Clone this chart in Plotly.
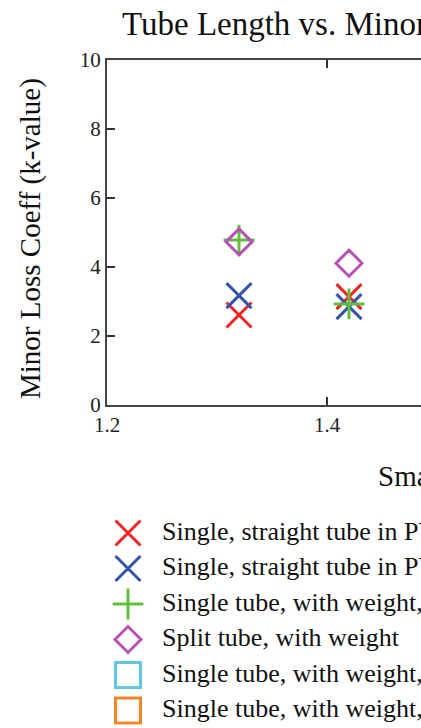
import plotly.graph_objects as go

W, H = 421, 728
SERIF = "Liberation Serif, Times New Roman, serif"

# ---- data -------------------------------------------------------------
tube_length = [1.32, 1.42]

k_straight_a = [2.61, 3.14]     # red X
k_straight_b = [3.17, 2.85]     # blue X
k_weight_a = [4.78, 2.93]       # green +
k_split = [4.73, 4.11]          # purple diamond
k_weight_b = []                 # cyan square
k_weight_c = []                 # orange square

series_names = [
    "Single, straight tube in PVC pipe, run 1",
    "Single, straight tube in PVC pipe, run 2",
    "Single tube, with weight, run 1",
    "Split tube, with weight",
    "Single tube, with weight, run 2",
    "Single tube, with weight, run 3",
]
series_values = [k_straight_a, k_straight_b, k_weight_a, k_split, k_weight_b, k_weight_c]
series_colors = ["#f02424", "#3653ab", "#62bf3e", "#b552b5", "#5fc8dc", "#f0862a"]
series_symbols = ["x-thin-open", "x-thin-open", "cross-thin-open",
                  "diamond-open", "square-open", "square-open"]
series_sizes = [25, 25, 22, 20, 25, 25]

x_ticks = [1.2, 1.4]
y_ticks = [0, 2, 4, 6, 8, 10]

# ---- layout constants (pixels) ----------------------------------------
PLOT_L, PLOT_T, PLOT_B = 107, 60, 405
X_PER_PX = 0.2 / 220.0
LEG_TOP, LEG_ROW0, LEG_STEP = 515, 533, 35.5
LEG_MARK_X, LEG_TEXT_X = 21, 55

fig = go.Figure()

for name, vals, col, sym, sz in zip(series_names, series_values, series_colors,
                                    series_symbols, series_sizes):
    fig.add_trace(go.Scatter(
        x=tube_length[:len(vals)], y=vals, mode="markers", name=name,
        marker=dict(symbol=sym, size=sz, color=col, line=dict(color=col, width=3)),
        showlegend=False, cliponaxis=False,
    ))

# legend drawn on its own hidden axes below the chart
for i, (col, sym, sz) in enumerate(zip(series_colors, series_symbols, series_sizes)):
    fig.add_trace(go.Scatter(
        x=[LEG_MARK_X], y=[i], mode="markers", xaxis="x2", yaxis="y2",
        marker=dict(symbol=sym, size=sz, color=col, line=dict(color=col, width=3)),
        showlegend=False, hoverinfo="skip", cliponaxis=False,
    ))
fig.add_trace(go.Scatter(
    x=[LEG_TEXT_X] * len(series_names), y=list(range(len(series_names))),
    mode="text", text=series_names, textposition="middle right",
    textfont=dict(family=SERIF, size=26, color="#111"),
    xaxis="x2", yaxis="y2", showlegend=False, hoverinfo="skip", cliponaxis=False,
))

axis_line = dict(showline=True, linecolor="#444", linewidth=2, ticks="inside",
                 ticklen=8, tickwidth=1.5, tickcolor="#333", showgrid=False,
                 zeroline=False, automargin=False,
                 tickfont=dict(family=SERIF, size=21, color="#222"))

plot_w = W - PLOT_L
fig.update_layout(
    width=W, height=H, margin=dict(l=PLOT_L, r=0, t=0, b=0, autoexpand=False),
    paper_bgcolor="white", plot_bgcolor="white",
    title=dict(text="Tube Length vs. Minor Loss Coefficient", x=122 / W, xanchor="left",
               xref="container", y=1 - 23 / H, yanchor="middle", yref="container",
               font=dict(family=SERIF, size=33, color="#111")),
    xaxis=dict(domain=[0, 1], range=[1.2, 1.2 + plot_w * X_PER_PX], tickvals=x_ticks,
               ticktext=[f"{v:.1f}" for v in x_ticks], mirror="ticks", anchor="y",
               **axis_line),
    yaxis=dict(domain=[1 - PLOT_B / H, 1 - PLOT_T / H], range=[0, 10], tickvals=y_ticks,
               anchor="x", ticklabelstandoff=0, **axis_line),
    xaxis2=dict(domain=[0, 1], range=[0, plot_w], visible=False, anchor="y2"),
    yaxis2=dict(domain=[0, 1 - LEG_TOP / H],
                range=[(H - LEG_ROW0) / LEG_STEP, (LEG_TOP - LEG_ROW0) / LEG_STEP],
                visible=False, anchor="x2"),
    annotations=[
        dict(text="Minor Loss Coeff (k-value)", textangle=-90, showarrow=False,
             xref="paper", yref="paper", x=(31 - PLOT_L) / plot_w, y=1 - 239 / H,
             xanchor="center", yanchor="middle",
             font=dict(family=SERIF, size=29, color="#111")),
        dict(text="Small Tube Length (m)", showarrow=False, xref="paper", yref="paper",
             x=(376 - PLOT_L) / plot_w, y=1 - 476 / H, xanchor="left", yanchor="middle",
             font=dict(family=SERIF, size=29, color="#111")),
    ],
)

fig.write_html("out.html")
